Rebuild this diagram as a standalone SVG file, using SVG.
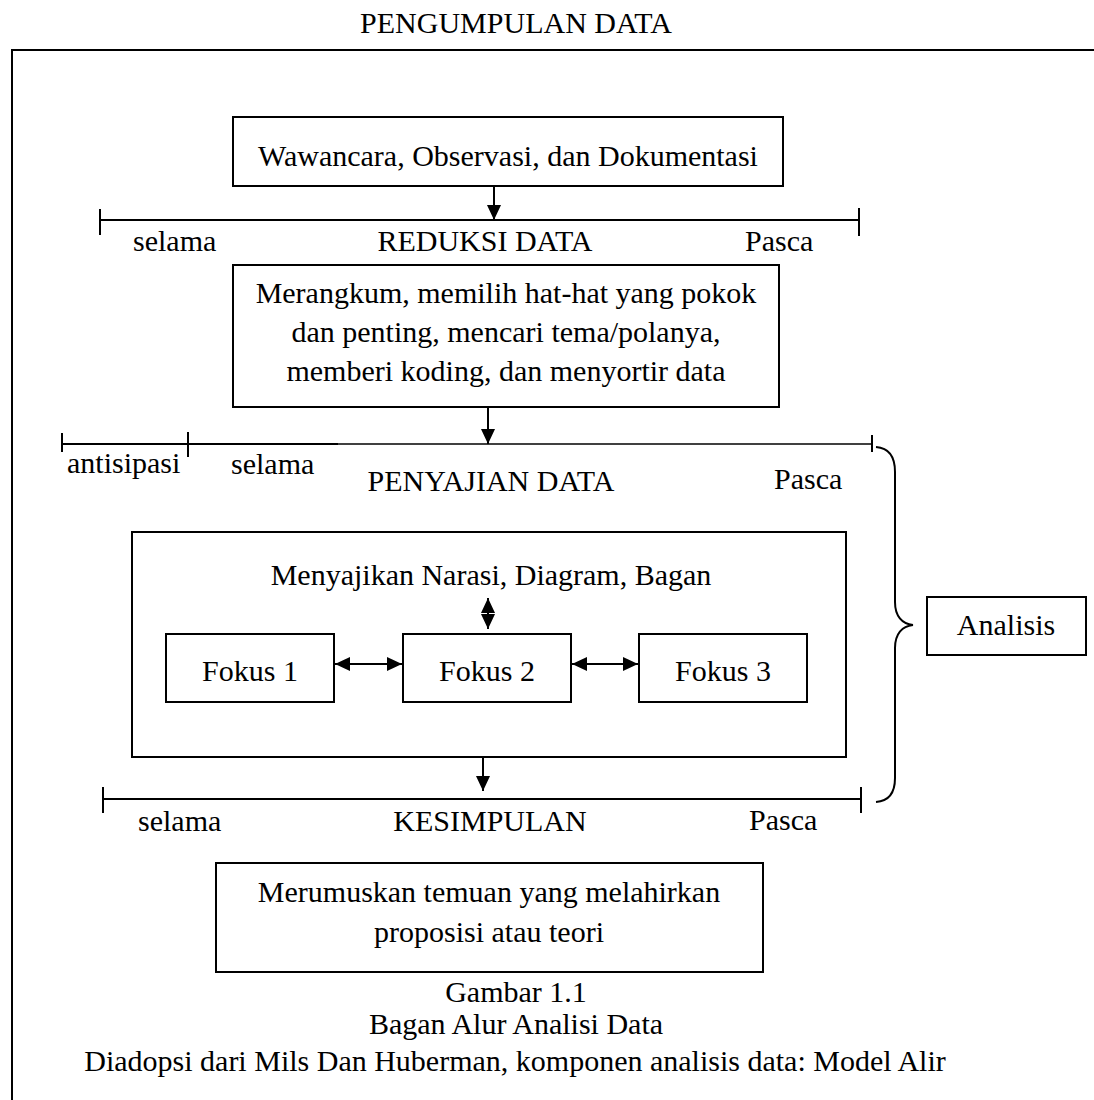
<svg xmlns="http://www.w3.org/2000/svg" width="1094" height="1100" viewBox="0 0 1094 1100">
<defs>
<style>
text{font-family:"Liberation Serif","Times New Roman",serif;font-size:30px;fill:#000}
.m{text-anchor:middle}
.box{fill:#fff;stroke:#000;stroke-width:2}
.frame{fill:none;stroke:#000;stroke-width:2}
.ln{stroke:#000;stroke-width:2;fill:none}
</style>
<marker id="ah" viewBox="0 0 15 14" refX="15" refY="7" markerWidth="15" markerHeight="14" markerUnits="userSpaceOnUse" orient="auto-start-reverse">
<path d="M0,0 L15,7 L0,14 z" fill="#000"/>
</marker>
</defs>
<rect width="1094" height="1100" fill="#fff"/>
<text class="m" x="516" y="33">PENGUMPULAN DATA</text>
<path class="ln" d="M12,1100 V50 H1094"/>

<g id="reduksi-line">
<line class="ln" x1="100" y1="220" x2="859" y2="220"/>
<line class="ln" x1="100" y1="209" x2="100" y2="235"/>
<line class="ln" x1="859" y1="208" x2="859" y2="236"/>
<text x="133" y="251">selama</text>
<text class="m" x="485" y="251">REDUKSI DATA</text>
<text x="745" y="251">Pasca</text>
</g>

<g id="penyajian-line">
<line class="ln" x1="62" y1="444" x2="338" y2="444"/>
<line stroke="#000" stroke-width="1.6" x1="338" y1="444" x2="872" y2="444"/>
<line class="ln" x1="62" y1="433" x2="62" y2="452"/>
<line class="ln" x1="188" y1="432" x2="188" y2="457"/>
<line class="ln" x1="872" y1="435" x2="872" y2="452"/>
<text x="67" y="473">antisipasi</text>
<text x="231" y="474">selama</text>
<text class="m" x="491" y="491">PENYAJIAN DATA</text>
<text x="774" y="489">Pasca</text>
</g>

<g id="kesimpulan-line">
<line class="ln" x1="103" y1="799" x2="861" y2="799"/>
<line class="ln" x1="103" y1="787" x2="103" y2="813"/>
<line class="ln" x1="861" y1="787" x2="861" y2="813"/>
<text x="138" y="831">selama</text>
<text class="m" x="490" y="831">KESIMPULAN</text>
<text x="749" y="830">Pasca</text>
</g>

<g id="pengumpulan">
<rect class="box" x="233" y="117" width="550" height="69"/>
<text class="m" x="508" y="166">Wawancara, Observasi, dan Dokumentasi</text>
</g>

<g id="reduksi">
<rect class="box" x="233" y="265" width="546" height="142"/>
<text class="m" x="506" y="303">Merangkum, memilih hat-hat yang pokok</text>
<text class="m" x="506" y="342">dan penting, mencari tema/polanya,</text>
<text class="m" x="506" y="381">memberi koding, dan menyortir data</text>
</g>

<g id="penyajian">
<rect class="frame" x="132" y="532" width="714" height="225"/>
<text class="m" x="491" y="585">Menyajikan Narasi, Diagram, Bagan</text>
</g>

<g id="fokus1">
<rect class="box" x="166" y="634" width="168" height="68"/>
<text class="m" x="250" y="681">Fokus 1</text>
</g>
<g id="fokus2">
<rect class="box" x="403" y="634" width="168" height="68"/>
<text class="m" x="487" y="681">Fokus 2</text>
</g>
<g id="fokus3">
<rect class="box" x="639" y="634" width="168" height="68"/>
<text class="m" x="723" y="681">Fokus 3</text>
</g>

<g id="analisis">
<rect class="box" x="927" y="597" width="159" height="58"/>
<text class="m" x="1006" y="635">Analisis</text>
</g>

<g id="kesimpulan">
<rect class="box" x="216" y="863" width="547" height="109"/>
<text class="m" x="489" y="902">Merumuskan temuan yang melahirkan</text>
<text class="m" x="489" y="942">proposisi atau teori</text>
</g>

<g id="caption">
<text class="m" x="516" y="1002">Gambar 1.1</text>
<text class="m" x="516" y="1034">Bagan Alur Analisi Data</text>
<text class="m" x="515" y="1071">Diadopsi dari Mils Dan Huberman, komponen analisis data: Model Alir</text>
</g>

<g id="connectors">
<line class="ln" x1="494" y1="187" x2="494" y2="220" marker-end="url(#ah)"/>
<line class="ln" x1="488" y1="408" x2="488" y2="444" marker-end="url(#ah)"/>
<line class="ln" x1="488" y1="598" x2="488" y2="629" marker-start="url(#ah)" marker-end="url(#ah)"/>
<line class="ln" x1="335" y1="664" x2="402" y2="664" marker-start="url(#ah)" marker-end="url(#ah)"/>
<line class="ln" x1="572" y1="664" x2="638" y2="664" marker-start="url(#ah)" marker-end="url(#ah)"/>
<line class="ln" x1="483" y1="758" x2="483" y2="791" marker-end="url(#ah)"/>
<path class="ln" d="M876,447 C890,448 895,458 895,472 L895,602 C895,616 902,624 913,625 C902,626 895,634 895,648 L895,778 C895,792 890,801 876,802"/>
</g>
</svg>
